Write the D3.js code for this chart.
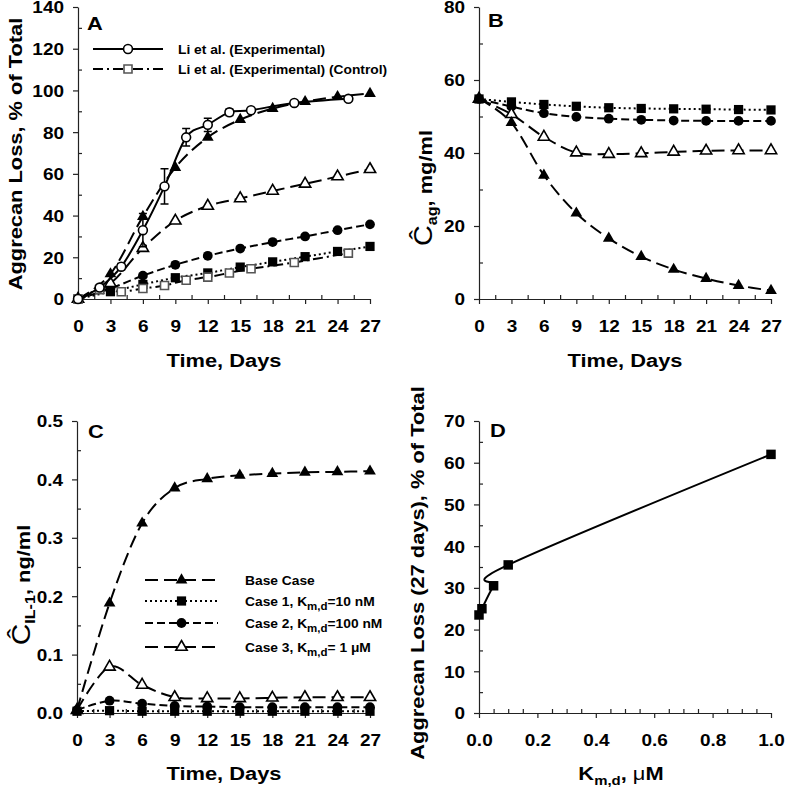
<!DOCTYPE html>
<html>
<head>
<meta charset="utf-8">
<script src="https://cdn.jsdelivr.net/npm/d3@7.9.0/dist/d3.min.js"></script>
<style>
  body { margin: 0; background: #fff; }
  svg { display: block; }
  text { font-family: "Liberation Sans", Arial, sans-serif; font-weight: bold; fill: #000; }
</style>
</head>
<body>
<svg id="chart" width="785" height="794"></svg>
<script>
// ---- data ----
const days = [0, 3, 6, 9, 12, 15, 18, 21, 24, 27];

// panel A: aggrecan loss, % of total
const liDays = [0, 2, 4, 6, 8, 10, 12, 14, 16, 20, 25];
const liExp = [0, 5.5, 15.5, 33, 54, 77.5, 83.5, 89.5, 90.5, 94, 96];
const liExpErr = [0.5, 1, 1.5, 8, 8.5, 4.2, 3.2, 1.5, 1, 1, 1];
const liCtrl = [0, 4.5, 3.5, 5, 6.5, 9, 10.5, 12.5, 14.5, 17.5, 22];
const lossBase = [0, 12, 39.5, 63, 77.5, 86, 91.3, 94.6, 97, 98.5];
const lossCase1 = [0, 3.5, 7, 10.2, 12.5, 15.3, 17.8, 20.3, 22.8, 25.2];
const lossCase2 = [0, 5, 11.2, 16.4, 20.7, 24.2, 27.3, 30, 33, 35.8];
const lossCase3 = [0, 7.5, 24.4, 37.5, 44.6, 48.2, 51.8, 55.2, 58.7, 62.2];

// panel B: aggrecan concentration, mg/ml
const agBase = [54.8, 48.3, 33.9, 23.5, 16.6, 11.6, 8.1, 5.6, 3.7, 2.3];
const agCase1 = [54.8, 54.0, 53.3, 52.8, 52.4, 52.2, 52.1, 52.0, 51.9, 51.8];
const agCase2 = [54.8, 52.7, 50.9, 49.9, 49.4, 49.1, 48.9, 48.8, 48.8, 48.8];
const agCase3 = [54.8, 50.6, 44.4, 40.1, 39.7, 39.9, 40.3, 40.6, 40.7, 40.7];

// panel C: IL-1 concentration, ng/ml
const il1Base = [0.005, 0.188, 0.325, 0.385, 0.401, 0.407, 0.41, 0.412, 0.413, 0.414];
const il1Case1 = [0.003, 0.004, 0.003, 0.003, 0.003, 0.003, 0.003, 0.003, 0.003, 0.003];
const il1Case2 = [0.005, 0.021, 0.016, 0.012, 0.011, 0.010, 0.010, 0.010, 0.010, 0.010];
const il1Case3 = [0.005, 0.079, 0.048, 0.027, 0.025, 0.025, 0.026, 0.027, 0.027, 0.027];

// panel D: loss at 27 days vs Km,d
const kmd = [0, 0.01, 0.05, 0.1, 1.0];
const loss27 = [23.5, 25, 30.5, 35.5, 62];

// tick values
const dayTicks = [0, 3, 6, 9, 12, 15, 18, 21, 24, 27];
const dayMinor = d3.range(1.5, 27, 3);
const aTicks = d3.range(0, 141, 20), aMinor = d3.range(10, 140, 20);
const bTicks = d3.range(0, 81, 20), bMinor = d3.range(10, 80, 20);
const cTicks = [0, 0.1, 0.2, 0.3, 0.4, 0.5], cMinor = [0.05, 0.15, 0.25, 0.35, 0.45];
const dxTicks = [0, 0.2, 0.4, 0.6, 0.8, 1.0], dxMinor = d3.range(0.05, 1, 0.05).filter(v => Math.abs(v * 5 - Math.round(v * 5)) > 0.01);
const dyTicks = d3.range(0, 71, 10), dyMinor = d3.range(5, 70, 10);

// ---- styles ----
const styles = {
  base:  { dash: "13,6", shape: d3.symbolTriangle, size: 60, fill: "#000" },
  case1: { dash: "2,3",  shape: d3.symbolSquare,   size: 85, fill: "#000" },
  case2: { dash: "8,4",  shape: d3.symbolCircle,   size: 75, fill: "#000" },
  case3: { dash: "13,6", shape: d3.symbolTriangle, size: 55, fill: "#fff" },
  liExp: { dash: null,   shape: d3.symbolCircle,   size: 62, fill: "#fff" },
  liCtrl:{ dash: "10,4,2,4", shape: d3.symbolSquare, size: 64, fill: "#fff", stroke: "#555" }
};

const WIDE = 1.15; // reference glyphs are a bit wider than Liberation Sans
const svg = d3.select("#chart");

function wideText(g, x, y, rot, size) {
  return g.append("text")
    .attr("transform", `translate(${x},${y}) rotate(${rot}) scale(${WIDE},1)`)
    .attr("font-size", size);
}

function drawAxes(g, x, y, p) {
  const xAxis = d3.axisBottom(x).tickValues(p.xTicks).tickSize(5).tickSizeOuter(0).tickFormat(p.xFmt);
  const yAxis = d3.axisLeft(y).tickValues(p.yTicks).tickSize(5).tickSizeOuter(0).tickFormat(p.yFmt);
  const y0 = y.range()[0], x0 = x.range()[0];

  const gx = g.append("g").attr("transform", `translate(0,${y0})`).call(xAxis);
  gx.attr("font-size", 16.5);
  gx.selectAll(".tick text").attr("y", 0).attr("dy", 0)
    .attr("transform", `translate(0,33) scale(${WIDE},1)`);

  const gy = g.append("g").attr("transform", `translate(${x0},0)`).call(yAxis);
  gy.attr("font-size", 16.5);
  gy.selectAll(".tick text").attr("x", 0).attr("dy", "0.36em")
    .attr("transform", `translate(-14,0) scale(${WIDE},1)`);

  // minor ticks point inward
  g.append("g").attr("transform", `translate(0,${y0})`)
    .call(d3.axisBottom(x).tickValues(p.xMinor).tickSize(-4).tickFormat(""))
    .select(".domain").remove();
  g.append("g").attr("transform", `translate(${x0},0)`)
    .call(d3.axisLeft(y).tickValues(p.yMinor).tickSize(-4).tickFormat(""))
    .select(".domain").remove();

  g.selectAll(".domain, .tick line").attr("stroke", "#222").attr("stroke-width", 1.2);
}

function drawSeries(g, x, y, xs, ys, st, withLine = true) {
  const pts = xs.map((d, i) => [d, ys[i]]);
  if (withLine) {
    const line = d3.line().x(d => x(d[0])).y(d => y(d[1])).curve(d3.curveCardinal.tension(0));
    g.append("path").datum(pts).attr("d", line)
      .attr("fill", "none").attr("stroke", "#000").attr("stroke-width", 2)
      .attr("stroke-dasharray", st.dash);
  }
  g.selectAll(null).data(pts).join("path")
    .attr("transform", d => `translate(${x(d[0])},${y(d[1])})`)
    .attr("d", d3.symbol(st.shape, st.size))
    .attr("fill", st.fill)
    .attr("stroke", st.stroke || "#000")
    .attr("stroke-width", st.fill === "#fff" ? 1.6 : 0);
}

function legendRow(g, x1, x2, yy, st, tx) {
  g.append("line").attr("x1", x1).attr("x2", x2).attr("y1", yy).attr("y2", yy)
    .attr("stroke", "#000").attr("stroke-width", 2).attr("stroke-dasharray", st.dash);
  g.append("path").attr("transform", `translate(${(x1 + x2) / 2},${yy})`)
    .attr("d", d3.symbol(st.shape, st.size))
    .attr("fill", st.fill).attr("stroke", st.stroke || "#000")
    .attr("stroke-width", st.fill === "#fff" ? 1.6 : 0);
  return wideText(g, tx, yy + 5, 0, 12);
}

function kmdLabel(t, pre, post) {
  t.append("tspan").text(pre);
  t.append("tspan").attr("font-size", 10).attr("dy", 4).text("m,d");
  t.append("tspan").attr("dy", -4).text(post);
}

// ---- panel A ----
const xA = d3.scaleLinear().domain([0, 27]).range([78, 370]);
const yA = d3.scaleLinear().domain([0, 140]).range([299, 7]);
const gA = svg.append("g");
drawAxes(gA, xA, yA, { xTicks: dayTicks, xMinor: dayMinor, yTicks: aTicks, yMinor: aMinor, xFmt: d3.format("d"), yFmt: d3.format("d") });
drawSeries(gA, xA, yA, days, lossCase1, styles.case1);
drawSeries(gA, xA, yA, days, lossCase2, styles.case2);
drawSeries(gA, xA, yA, days, lossCase3, styles.case3);
drawSeries(gA, xA, yA, days, lossBase, styles.base);
drawSeries(gA, xA, yA, liDays, liCtrl, styles.liCtrl);
// error bars for Li et al.
liDays.forEach((d, i) => {
  const cx = xA(d), top = yA(liExp[i] + liExpErr[i]), bot = yA(liExp[i] - liExpErr[i]);
  gA.append("path").attr("d", `M${cx},${top}V${bot}M${cx - 4},${top}H${cx + 4}M${cx - 4},${bot}H${cx + 4}`)
    .attr("stroke", "#000").attr("stroke-width", 1.5).attr("fill", "none");
});
drawSeries(gA, xA, yA, liDays, liExp, styles.liExp);
legendRow(gA, 93, 163, 49, styles.liExp, 178).text("Li et al. (Experimental)");
legendRow(gA, 93, 163, 69, styles.liCtrl, 178).text("Li et al. (Experimental) (Control)");
wideText(gA, 87, 30, 0, 19).text("A");
wideText(gA, 224, 367, 0, 19).attr("text-anchor", "middle").text("Time, Days");
wideText(gA, 22, 154, -90, 19).attr("text-anchor", "middle").text("Aggrecan Loss, % of Total");

// ---- panel B ----
const xB = d3.scaleLinear().domain([0, 27]).range([479, 771]);
const yB = d3.scaleLinear().domain([0, 80]).range([299, 7]);
const gB = svg.append("g");
drawAxes(gB, xB, yB, { xTicks: dayTicks, xMinor: dayMinor, yTicks: bTicks, yMinor: bMinor, xFmt: d3.format("d"), yFmt: d3.format("d") });
drawSeries(gB, xB, yB, days, agCase1, styles.case1);
drawSeries(gB, xB, yB, days, agCase2, styles.case2);
drawSeries(gB, xB, yB, days, agCase3, styles.case3);
drawSeries(gB, xB, yB, days, agBase, styles.base);
wideText(gB, 488, 27, 0, 19).text("B");
wideText(gB, 625, 367, 0, 19).attr("text-anchor", "middle").text("Time, Days");
const tB = wideText(gB, 432, 188, -90, 19).attr("text-anchor", "middle");
tB.append("tspan").attr("font-weight", "normal").attr("font-size", 25).text("Ĉ");
tB.append("tspan").attr("font-size", 14).attr("dy", 5).text("ag");
tB.append("tspan").attr("dy", -5).text(", mg/ml");

// ---- panel C ----
const xC = d3.scaleLinear().domain([0, 27]).range([77, 370]);
const yC = d3.scaleLinear().domain([0, 0.5]).range([713, 421]);
const gC = svg.append("g");
drawAxes(gC, xC, yC, { xTicks: dayTicks, xMinor: dayMinor, yTicks: cTicks, yMinor: cMinor, xFmt: d3.format("d"), yFmt: d3.format(".1f") });
drawSeries(gC, xC, yC, days, il1Case1, styles.case1);
drawSeries(gC, xC, yC, days, il1Case2, styles.case2);
drawSeries(gC, xC, yC, days, il1Case3, styles.case3);
drawSeries(gC, xC, yC, days, il1Base, styles.base);
legendRow(gC, 145, 218, 580, styles.base, 245).text("Base Case");
kmdLabel(legendRow(gC, 145, 218, 601, styles.case1, 245), "Case 1, K", "=10 nM");
kmdLabel(legendRow(gC, 145, 218, 623, styles.case2, 245), "Case 2, K", "=100 nM");
kmdLabel(legendRow(gC, 145, 218, 647, styles.case3, 245), "Case 3, K", "= 1 μM");
wideText(gC, 88, 438, 0, 19).text("C");
wideText(gC, 224, 780, 0, 19).attr("text-anchor", "middle").text("Time, Days");
const tC = wideText(gC, 30, 585, -90, 19).attr("text-anchor", "middle");
tC.append("tspan").attr("font-weight", "normal").attr("font-size", 26).text("Ĉ");
tC.append("tspan").attr("font-size", 14).attr("dy", 5).text("IL-1");
tC.append("tspan").attr("dy", -5).text(", ng/ml");

// ---- panel D ----
const xD = d3.scaleLinear().domain([0, 1]).range([479, 771]);
const yD = d3.scaleLinear().domain([0, 70]).range([713, 421]);
const gD = svg.append("g");
drawAxes(gD, xD, yD, { xTicks: dxTicks, xMinor: dxMinor, yTicks: dyTicks, yMinor: dyMinor, xFmt: d3.format(".1f"), yFmt: d3.format("d") });
drawSeries(gD, xD, yD, kmd, loss27, { dash: null, shape: d3.symbolSquare, size: 90, fill: "#000" });
wideText(gD, 490, 437, 0, 19).text("D");
const tDx = wideText(gD, 621, 780, 0, 19).attr("text-anchor", "middle");
tDx.append("tspan").text("K");
tDx.append("tspan").attr("font-size", 13).attr("dy", 5).text("m,d");
tDx.append("tspan").attr("dy", -5).text(", ");
tDx.append("tspan").attr("font-weight", "normal").text("μ");
tDx.append("tspan").text("M");
wideText(gD, 424, 573, -90, 19).attr("text-anchor", "middle").text("Aggrecan Loss (27 days), % of Total");

console.log("chart drawn");
</script>
</body>
</html>
